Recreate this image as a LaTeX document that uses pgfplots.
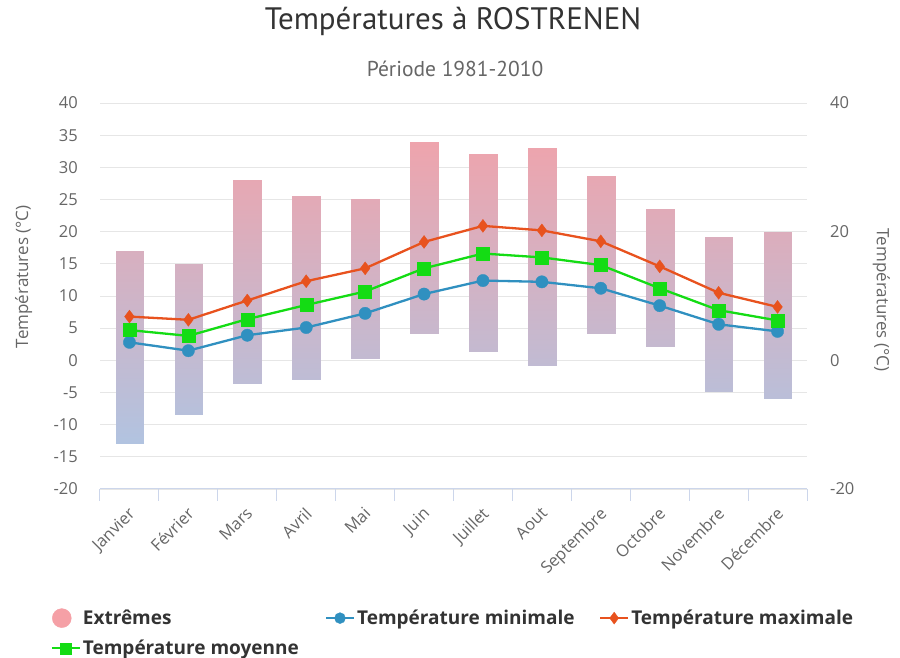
\documentclass[border=0pt]{standalone}
\usepackage{fontspec}
\setmainfont{Open Sans}
\newfontfamily\ptsans{PT Sans}
\usepackage{pgfplots}
\pgfplotsset{compat=1.18}
\definecolor{tickgrey}{HTML}{666666}
\definecolor{titlegrey}{HTML}{333333}
\definecolor{gridgrey}{HTML}{E6E6E6}
\definecolor{axisline}{HTML}{CCD6EB}
\definecolor{cmin}{RGB}{48,144,192}
\definecolor{cmax}{RGB}{232,82,30}
\definecolor{cmoy}{RGB}{20,220,20}
\definecolor{barpink}{RGB}{245,160,166}
\pgfplotsset{
  linelegend/.style={legend image code/.code={\draw[mark repeat=2,mark phase=2,##1] plot coordinates {(0pt,0pt)(14pt,0pt)(28pt,0pt)};}},
}
\begin{document}
\begin{tikzpicture}
\useasboundingbox (0pt,0pt) rectangle (900pt,658pt);
\node[font=\ptsans\fontsize{31}{34}\selectfont, text=titlegrey] at (453pt,637pt) {Températures à ROSTRENEN};
\node[font=\ptsans\fontsize{21.5}{24}\selectfont, text=tickgrey] at (455pt,589pt) {Période 1981-2010};
\begin{axis}[
  at={(100pt,169pt)}, anchor=south west, scale only axis,
  width=707pt, height=386pt,
  xmin=-0.5, xmax=11.5, ymin=-20, ymax=40,
  /pgf/number format/assume math mode=true,
  point meta min=-20, point meta max=40,
  colormap={barmap}{rgb255(0)=(168,200,232) rgb255(1)=(246,160,166)},
  axis x line*=bottom, axis y line*=left,
  axis line style={-},
  x axis line style={axisline, line width=1pt},
  y axis line style={draw=none},
  ytick={-20,-15,...,40},
  ymajorgrids, grid style={gridgrey, line width=0.9pt},
  xtick={0,...,11},
  xticklabels={Janvier,Février,Mars,Avril,Mai,Juin,Juillet,Aout,Septembre,Octobre,Novembre,Décembre},
  minor xtick={-0.5,0.5,...,11.5},
  major tick length=0pt, minor tick length=12pt, tick align=outside,
  every minor tick/.append style={axisline, line width=1pt},
  xticklabel style={rotate=45, anchor=north east, inner sep=0pt, xshift=-13.5pt, yshift=-10.5pt, text=tickgrey, font=\fontsize{16.5}{18}\selectfont},
  yticklabel style={inner sep=0pt, xshift=-22pt, text=tickgrey, font=\fontsize{16.5}{18}\selectfont},
  ylabel={Températures (°C)},
  ylabel style={at={(axis description cs:-0.108,0.55)}, anchor=center, rotate=0, text=tickgrey, font=\fontsize{17}{19}\selectfont},
  legend columns=3,
  legend cell align=left,
  legend style={at={(axis description cs:-0.070,-0.308)}, anchor=north west, draw=none, fill=none, inner sep=0pt,
    font=\bfseries\fontsize{19}{21}\selectfont, text=titlegrey, row sep=10pt,
    /tikz/every odd column/.append style={column sep=0pt}},
]
% Extrêmes: range bars (low to high), one rectangle per month
\addplot[patch, patch type=rectangle, shader=interp, point meta=y, forget plot] coordinates {
 (-0.235,-13.0) (0.235,-13.0) (0.235,17.0) (-0.235,17.0)
 (0.765,-8.4) (1.235,-8.4) (1.235,15.0) (0.765,15.0)
 (1.765,-3.6) (2.235,-3.6) (2.235,28.0) (1.765,28.0)
 (2.765,-2.9) (3.235,-2.9) (3.235,25.6) (2.765,25.6)
 (3.765,0.4) (4.235,0.4) (4.235,25.0) (3.765,25.0)
 (4.765,4.3) (5.235,4.3) (5.235,34.0) (4.765,34.0)
 (5.765,1.5) (6.235,1.5) (6.235,32.0) (5.765,32.0)
 (6.765,-0.7) (7.235,-0.7) (7.235,33.0) (6.765,33.0)
 (7.765,4.3) (8.235,4.3) (8.235,28.7) (7.765,28.7)
 (8.765,2.3) (9.235,2.3) (9.235,23.6) (8.765,23.6)
 (9.765,-4.7) (10.235,-4.7) (10.235,19.1) (9.765,19.1)
 (10.765,-5.9) (11.235,-5.9) (11.235,20.0) (10.765,20.0)
};
% Température minimale
\addplot[cmin, line width=2.3pt, mark=*, mark size=6.2pt, mark options={line width=0.3pt}, forget plot] coordinates {
 (0,2.8) (1,1.5) (2,3.9) (3,5.1) (4,7.3) (5,10.3) (6,12.4) (7,12.2) (8,11.2) (9,8.5) (10,5.6) (11,4.5)
};
% Température maximale
\addplot[cmax, line width=2.3pt, mark=diamond*, mark size=6.5pt, mark options={line width=0.3pt}, forget plot] coordinates {
 (0,6.8) (1,6.3) (2,9.3) (3,12.3) (4,14.3) (5,18.4) (6,20.9) (7,20.2) (8,18.5) (9,14.6) (10,10.5) (11,8.3)
};
% Température moyenne
\addplot[cmoy, line width=2.3pt, mark=square*, mark size=6.5pt, mark options={line width=0.3pt}, forget plot] coordinates {
 (0,4.7) (1,3.8) (2,6.4) (3,8.6) (4,10.7) (5,14.3) (6,16.6) (7,16.0) (8,14.8) (9,11.2) (10,7.8) (11,6.2)
};
\addlegendimage{legend image code/.code={\fill[barpink] (10pt,0pt) circle (9.5pt);}}
\addlegendentry{\makebox[240pt][l]{Extrêmes}}
\addlegendimage{cmin, line width=2.2pt, mark=*, mark size=5.5pt, mark options={line width=0.3pt}, linelegend}
\addlegendentry{\makebox[240pt][l]{Température minimale}}
\addlegendimage{cmax, line width=2.2pt, mark=diamond*, mark size=6pt, mark options={line width=0.3pt}, linelegend}
\addlegendentry{Température maximale}
\addlegendimage{cmoy, line width=2.2pt, mark=square*, mark size=5.5pt, mark options={line width=0.3pt}, linelegend}
\addlegendentry{Température moyenne}
\end{axis}
\begin{axis}[
  at={(100pt,169pt)}, anchor=south west, scale only axis,
  width=707pt, height=386pt,
  xmin=-0.5, xmax=11.5, ymin=-20, ymax=40,
  /pgf/number format/assume math mode=true,
  axis x line=none, axis y line*=right,
  axis line style={draw=none},
  ytick={-20,0,20,40}, major tick length=0pt,
  yticklabel style={inner sep=0pt, xshift=23pt, text=tickgrey, font=\fontsize{16.5}{18}\selectfont},
  ylabel={Températures (°C)},
  ylabel style={at={(axis description cs:1.105,0.49)}, anchor=center, rotate=180, text=tickgrey, font=\fontsize{17}{19}\selectfont},
]
\addplot[draw=none, forget plot] coordinates {(0,0)};
\end{axis}
\end{tikzpicture}
\end{document}
